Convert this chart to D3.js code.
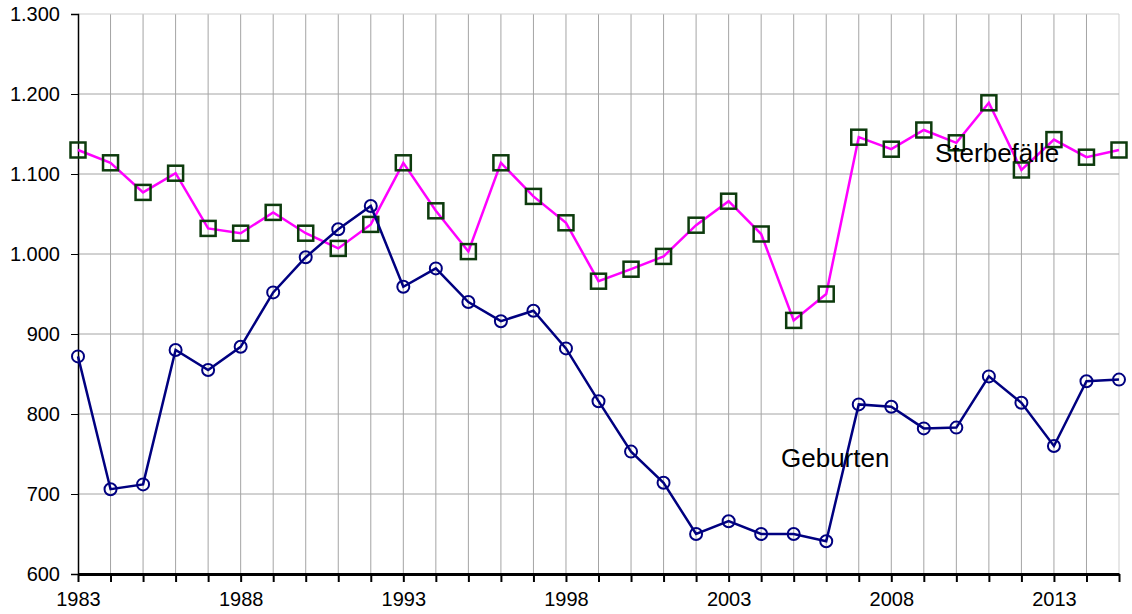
<!DOCTYPE html>
<html><head><meta charset="utf-8">
<script src="https://cdn.jsdelivr.net/npm/d3@7"></script>
<style>html,body{margin:0;padding:0;background:#fff;}svg{display:block;font-family:Arial,"Liberation Sans",sans-serif;}</style>
</head><body>
<svg id="c" width="1132" height="614"></svg>
<script>
const years = d3.range(1983, 2016);
const sterbefaelle = [1130,1114,1077,1101,1032,1026,1052,1026,1007,1037,1114,1054,1003,1114,1072,1039,966,981,997,1036,1066,1025,917,950,1146,1131,1155,1139,1189,1105,1143,1121,1130];
const geburten = [872,706,712,880,855,884,952,996,1031,1060,959,982,940,916,929,882,816,753,714,650,666,650,650,641,812,809,782,783,847,814,760,841,843];
const yTicks = [600,700,800,900,1000,1100,1200,1300];
const xTickLabels = [1983,1988,1993,1998,2003,2008,2013];
const fmt = v => d3.format(",")(v).replace(",", ".");

const svg = d3.select("#c");
const L = 78, R = 1119, T = 14, B = 574;
const x = d3.scaleLinear().domain([1983, 2015]).range([L, R]);
const y = d3.scaleLinear().domain([600, 1300]).range([B, T]);

// grid
const g = svg.append("g");
g.selectAll(".vg").data(years.slice(1)).join("line")
  .attr("x1", d => x(d)).attr("x2", d => x(d)).attr("y1", T).attr("y2", B)
  .attr("stroke", d => d === 2015 ? "#cfcfcf" : "#a4a4a4").attr("stroke-width", 1);
g.selectAll(".hg").data(yTicks.slice(1)).join("line")
  .attr("x1", L).attr("x2", R).attr("y1", d => y(d)).attr("y2", d => y(d))
  .attr("stroke", d => d === 1300 ? "#cfcfcf" : "#a4a4a4").attr("stroke-width", 1);

// y axis
const ya = svg.append("g").attr("transform", `translate(${L},0)`)
  .call(d3.axisLeft(y).tickValues(yTicks).tickFormat(fmt).tickSize(7).tickPadding(11));
ya.select(".domain").attr("stroke", "#000").attr("stroke-width", 1.5);
ya.selectAll(".tick line").attr("stroke", "#000");
ya.selectAll("text").attr("font-size", 20).attr("fill", "#000").attr("font-family", "Arial, 'Liberation Sans', sans-serif");

// x axis
const xa = svg.append("g").attr("transform", `translate(0,${B})`)
  .call(d3.axisBottom(x).tickValues(years).tickFormat(d => xTickLabels.includes(d) ? d : "").tickSize(8).tickSizeOuter(0).tickPadding(10));
xa.select(".domain").attr("stroke", "#000").attr("stroke-width", 3);
xa.selectAll(".tick line").attr("stroke", "#000").attr("stroke-width", 2);
xa.selectAll("text").attr("font-size", 20).attr("fill", "#000").attr("font-family", "Arial, 'Liberation Sans', sans-serif");

// Sterbefälle
const line = d3.line().x((d, i) => x(years[i])).y(d => y(d));
svg.append("path").datum(sterbefaelle).attr("d", line)
  .attr("fill", "none").attr("stroke", "#ff00ff").attr("stroke-width", 2.5);
svg.selectAll(".sq").data(sterbefaelle).join("rect")
  .attr("x", (d, i) => x(years[i]) - 7.5).attr("y", d => y(d) - 7.5)
  .attr("width", 15).attr("height", 15)
  .attr("fill", "none").attr("stroke", "#0d3b0d").attr("stroke-width", 2.5);

// Geburten
svg.append("path").datum(geburten).attr("d", line)
  .attr("fill", "none").attr("stroke", "#000080").attr("stroke-width", 2.5);
svg.selectAll(".ci").data(geburten).join("circle")
  .attr("cx", (d, i) => x(years[i])).attr("cy", d => y(d)).attr("r", 6)
  .attr("fill", "none").attr("stroke", "#000080").attr("stroke-width", 2);

// labels
svg.append("text").attr("x", 935).attr("y", 162).attr("font-size", 26).attr("fill", "#000").text("Sterbefälle");
svg.append("text").attr("x", 781).attr("y", 467).attr("font-size", 26).attr("fill", "#000").text("Geburten");
</script>
</body></html>
